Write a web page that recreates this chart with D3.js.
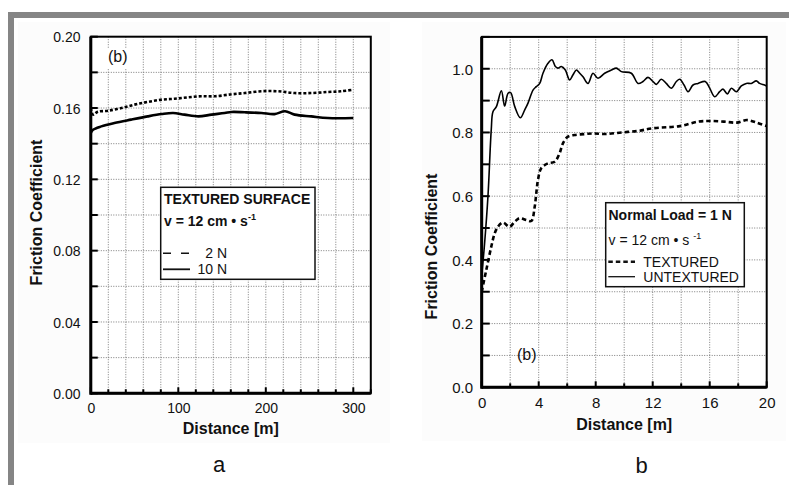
<!DOCTYPE html>
<html>
<head>
<meta charset="utf-8">
<script src="https://cdn.jsdelivr.net/npm/d3@7"></script>
<style>
  html, body { margin: 0; padding: 0; background: #fff; }
  svg { display: block; font-family: "Liberation Sans", Arial, sans-serif; }
</style>
</head>
<body>
<svg id="fig" width="789" height="485"></svg>
<script>
// ---- Panel a: textured surface, two normal loads ----
const distA2N = [0, 2.5, 8, 20, 35, 50, 65, 81, 96, 111, 126, 142, 161, 176, 195, 214, 233, 252, 271, 286, 300];
const muA2N   = [0.160, 0.1563, 0.1579, 0.1585, 0.1600, 0.1619, 0.1634, 0.1647, 0.1652, 0.1660, 0.1666, 0.1666, 0.1677, 0.1684, 0.1694, 0.1694, 0.1684, 0.1684, 0.1690, 0.1694, 0.1703];
const distA10N = [0, 2.5, 12, 27, 46, 65, 81, 94, 107, 123, 138, 153, 161, 176, 195, 210, 222, 233, 252, 271, 300];
const muA10N   = [0.1460, 0.1478, 0.1497, 0.1516, 0.1535, 0.1553, 0.1566, 0.1572, 0.1563, 0.1553, 0.1563, 0.1572, 0.1578, 0.1576, 0.1572, 0.1566, 0.1582, 0.1563, 0.1553, 0.1544, 0.1544];
const ticksAX = [0, 100, 200, 300];
const ticksAY = [0.00, 0.04, 0.08, 0.12, 0.16, 0.20];

// ---- Panel b: textured vs untextured, 1 N ----
const distBT = [0, 0.32, 0.67, 0.91, 1.14, 1.49, 1.96, 2.32, 2.67, 3.13, 3.48, 3.72, 3.83, 3.95, 4.18, 4.65, 5.12, 5.47, 5.7, 6.05, 6.53, 7.23, 7.81, 8.63, 9.8, 11, 12, 13.9, 15.2, 16, 17, 17.9, 18.6, 19.3, 20];
const muBT   = [0.30, 0.368, 0.441, 0.483, 0.504, 0.517, 0.504, 0.520, 0.531, 0.525, 0.522, 0.567, 0.609, 0.651, 0.688, 0.703, 0.708, 0.735, 0.766, 0.787, 0.792, 0.795, 0.797, 0.795, 0.800, 0.805, 0.813, 0.820, 0.834, 0.836, 0.834, 0.831, 0.839, 0.831, 0.820];
const distBU = [0, 0.2, 0.44, 0.67, 0.79, 1.03, 1.38, 1.61, 1.85, 2.03, 2.32, 2.71, 3.02, 3.25, 3.6, 3.83, 4.07, 4.3, 4.65, 4.93, 5.17, 5.35, 5.59, 5.87, 6.17, 6.41, 6.64, 6.88, 7.11, 7.46, 7.81, 8.16, 8.63, 9.1, 9.45, 9.8, 10.5, 10.97, 11.32, 11.67, 12.02, 12.26, 12.6, 12.95, 13.3, 13.66, 13.9, 14.2, 14.48, 14.83, 15.18, 15.69, 16, 16.35, 16.7, 16.93, 17.24, 17.52, 17.87, 18.22, 18.57, 18.92, 19.27, 19.5, 19.85, 20];
const muBU   = [0.35, 0.45, 0.60, 0.808, 0.865, 0.881, 0.931, 0.883, 0.923, 0.925, 0.881, 0.846, 0.871, 0.892, 0.933, 0.944, 0.954, 0.986, 1.017, 1.028, 1.007, 1.002, 1.007, 0.996, 0.965, 0.981, 0.996, 0.986, 0.975, 0.954, 0.986, 0.970, 0.986, 0.996, 1.002, 0.991, 0.986, 0.954, 0.960, 0.973, 0.960, 0.951, 0.967, 0.954, 0.939, 0.960, 0.967, 0.949, 0.928, 0.949, 0.954, 0.960, 0.939, 0.912, 0.928, 0.936, 0.921, 0.939, 0.928, 0.946, 0.954, 0.954, 0.962, 0.954, 0.949, 0.946];
const ticksBX = [0, 4, 8, 12, 16, 20];
const ticksBY = [0.0, 0.2, 0.4, 0.6, 0.8, 1.0];

const svg = d3.select("#fig");

// page frame
svg.append("rect").attr("x", 8).attr("y", 12).attr("width", 781).attr("height", 6).attr("fill", "#858585");
svg.append("rect").attr("x", 8).attr("y", 12).attr("width", 6).attr("height", 473).attr("fill", "#858585");
// faint panel backgrounds
svg.append("rect").attr("x", 18).attr("y", 22).attr("width", 372).attr("height", 421).attr("fill", "#fcfcfc");
svg.append("rect").attr("x", 422).attr("y", 22).attr("width", 364).attr("height", 419).attr("fill", "#fcfcfc");

function pairs(xs, ys) { return xs.map((d, i) => [d, ys[i]]); }

function panel(cfg) {
  const g = svg.append("g");
  const x = d3.scaleLinear().domain(cfg.xDomain).range([cfg.left, cfg.right]);
  const y = d3.scaleLinear().domain(cfg.yDomain).range([cfg.bottom, cfg.top]);

  g.append("rect").attr("x", cfg.left).attr("y", cfg.top)
    .attr("width", cfg.right - cfg.left).attr("height", cfg.bottom - cfg.top).attr("fill", "#fff");

  // dotted grid
  const grid = g.append("g").attr("stroke", "#6e6e6e").attr("stroke-width", 0.9).attr("stroke-dasharray", "1,1.5");
  d3.range(cfg.xDomain[0] + cfg.gridX, cfg.xDomain[1] - 1e-9, cfg.gridX).forEach(v => {
    grid.append("line").attr("x1", x(v)).attr("x2", x(v)).attr("y1", cfg.top).attr("y2", cfg.bottom);
  });
  d3.range(cfg.yDomain[0] + cfg.gridY, cfg.yDomain[1] - 1e-9, cfg.gridY).forEach(v => {
    grid.append("line").attr("x1", cfg.left).attr("x2", cfg.right).attr("y1", y(v)).attr("y2", y(v));
  });

  // inward ticks
  const tk = g.append("g").attr("stroke", "#000").attr("stroke-width", 2);
  d3.range(cfg.xDomain[0], cfg.xDomain[1] + 1e-9, cfg.gridX).forEach(v => {
    const major = cfg.xTicks.some(t => Math.abs(t - v) < 1e-9);
    tk.append("line").attr("x1", x(v)).attr("x2", x(v)).attr("y1", cfg.bottom).attr("y2", cfg.bottom - (major ? 6 : 4));
  });
  d3.range(cfg.yDomain[0], cfg.yDomain[1] + 1e-9, cfg.gridY).forEach(v => {
    tk.append("line").attr("x1", cfg.left).attr("x2", cfg.left + cfg.yTickLen).attr("y1", y(v)).attr("y2", y(v));
  });

  // tick labels via d3 axes (tick lines hidden, only text)
  const ax = d3.axisBottom(x).tickValues(cfg.xTicks).tickSize(0).tickPadding(0).tickFormat(cfg.xFmt);
  const axG = g.append("g").attr("transform", `translate(0,${cfg.xLabelY})`).call(ax);
  axG.select(".domain").remove();
  axG.selectAll("text").attr("dy", 0).attr("font-size", cfg.tickFont).attr("fill", "#111")
    .attr("font-family", "Liberation Sans, Arial, sans-serif");

  const ay = d3.axisLeft(y).tickValues(cfg.yTicks).tickSize(0).tickPadding(0).tickFormat(cfg.yFmt);
  const ayG = g.append("g").attr("transform", `translate(${cfg.yLabelX},0)`).call(ay);
  ayG.select(".domain").remove();
  ayG.selectAll("text").attr("dy", "0.36em").attr("font-size", cfg.tickFont).attr("fill", "#111")
    .attr("font-family", "Liberation Sans, Arial, sans-serif");

  // axis titles
  g.append("text").attr("x", (cfg.left + cfg.right) / 2 + cfg.xTitleDx).attr("y", cfg.xTitleY)
    .attr("text-anchor", "middle").attr("font-weight", "bold").attr("font-size", 16).attr("fill", "#111")
    .text("Distance [m]");
  g.append("text").attr("transform", `translate(${cfg.yTitleX},${cfg.yTitleY}) rotate(-90)`)
    .attr("text-anchor", "middle").attr("font-weight", "bold").attr("font-size", 16).attr("fill", "#111")
    .text("Friction Coefficient");

  // clip
  const id = "clip" + cfg.name;
  svg.append("defs").append("clipPath").attr("id", id).append("rect")
    .attr("x", cfg.left).attr("y", cfg.top).attr("width", cfg.right - cfg.left).attr("height", cfg.bottom - cfg.top);
  const plot = g.append("g").attr("clip-path", `url(#${id})`);

  const line = d3.line().x(d => x(d[0])).y(d => y(d[1])).curve(d3.curveCatmullRom.alpha(0.5));
  cfg.series.forEach(s => {
    plot.append("path").attr("d", line(pairs(s.xs, s.ys))).attr("fill", "none")
      .attr("stroke", "#000").attr("stroke-width", s.width)
      .attr("stroke-dasharray", s.dash || null).attr("stroke-linejoin", "round");
  });

  // frame
  g.append("rect").attr("x", cfg.left).attr("y", cfg.top)
    .attr("width", cfg.right - cfg.left).attr("height", cfg.bottom - cfg.top)
    .attr("fill", "none").attr("stroke", "#000").attr("stroke-width", 2);
  g.append("line").attr("x1", cfg.left).attr("x2", cfg.left).attr("y1", cfg.top).attr("y2", cfg.bottom + 1.5)
    .attr("stroke", "#000").attr("stroke-width", 3);
  g.append("line").attr("x1", cfg.left).attr("x2", cfg.right).attr("y1", cfg.bottom).attr("y2", cfg.bottom)
    .attr("stroke", "#000").attr("stroke-width", 3);

  return { g, x, y };
}

// ---------- panel a ----------
const pa = panel({
  name: "a", left: 90.8, right: 370.8, top: 36.7, bottom: 393.3,
  xDomain: [0, 320], yDomain: [0, 0.20], gridX: 20, gridY: 0.02, yTickLen: 7,
  xTicks: ticksAX, yTicks: ticksAY, xFmt: d3.format("d"), yFmt: d3.format(".2f"),
  tickFont: 14, xLabelY: 413, yLabelX: 80.5,
  xTitleDx: 0, xTitleY: 434, yTitleX: 42, yTitleY: 212.5,
  series: [
    { xs: distA2N, ys: muA2N, width: 2.6, dash: "3,2" },
    { xs: distA10N, ys: muA10N, width: 2.6 }
  ]
});

// "(b)" tag with a white patch behind it
pa.g.append("rect").attr("x", 104).attr("y", 48).attr("width", 28).attr("height", 20).attr("fill", "#fff");
pa.g.append("text").attr("x", 108).attr("y", 62).attr("font-size", 16).attr("fill", "#111").text("(b)");

// legend a
const la = pa.g.append("g");
la.append("rect").attr("x", 160.7).attr("y", 187.3).attr("width", 154.3).attr("height", 92)
  .attr("fill", "#fff").attr("stroke", "#111").attr("stroke-width", 1.5);
la.append("text").attr("x", 164).attr("y", 204).attr("font-size", 14).attr("font-weight", "bold").attr("fill", "#111")
  .text("TEXTURED SURFACE");
const va = la.append("text").attr("x", 164).attr("y", 226).attr("font-size", 14).attr("font-weight", "bold").attr("fill", "#111");
va.append("tspan").text("v = 12 cm \u2022 s");
va.append("tspan").attr("dy", -6).attr("font-size", 9).text("-1");
la.append("line").attr("x1", 163).attr("x2", 190).attr("y1", 253.3).attr("y2", 253.3)
  .attr("stroke", "#111").attr("stroke-width", 1.5).attr("stroke-dasharray", "8,10");
la.append("text").attr("x", 227).attr("y", 258.3).attr("text-anchor", "end").attr("font-size", 14).attr("fill", "#111").text("2 N");
la.append("line").attr("x1", 163).attr("x2", 190).attr("y1", 269.3).attr("y2", 269.3)
  .attr("stroke", "#111").attr("stroke-width", 1.8);
la.append("text").attr("x", 227).attr("y", 274.3).attr("text-anchor", "end").attr("font-size", 14).attr("fill", "#111").text("10 N");

svg.append("text").attr("x", 219).attr("y", 471.5).attr("text-anchor", "middle").attr("font-size", 22).attr("fill", "#111").text("a");

// ---------- panel b ----------
const pb = panel({
  name: "b", left: 481.7, right: 766.7, top: 36.9, bottom: 387.3,
  xDomain: [0, 20], yDomain: [0, 1.1], gridX: 2, gridY: 0.1, yTickLen: 8,
  xTicks: ticksBX, yTicks: ticksBY, xFmt: d3.format("d"), yFmt: d3.format(".1f"),
  tickFont: 15, xLabelY: 407.5, yLabelX: 473,
  xTitleDx: 0, xTitleY: 429.5, yTitleX: 437, yTitleY: 246.5,
  series: [
    { xs: distBT, ys: muBT, width: 2.6, dash: "4.5,3" },
    { xs: distBU, ys: muBU, width: 1.6 }
  ]
});

pb.g.append("text").attr("x", 517).attr("y", 360).attr("font-size", 16).attr("fill", "#111").text("(b)");

// legend b
const lb = pb.g.append("g");
lb.append("rect").attr("x", 605.7).attr("y", 202.7).attr("width", 138.6).attr("height", 84)
  .attr("fill", "#fff").attr("stroke", "#111").attr("stroke-width", 1.5);
lb.append("text").attr("x", 608.5).attr("y", 220).attr("font-size", 14).attr("font-weight", "bold").attr("fill", "#111")
  .text("Normal Load = 1 N");
const vb = lb.append("text").attr("x", 608.5).attr("y", 245).attr("font-size", 14).attr("fill", "#111");
vb.append("tspan").text("v = 12 cm \u2022 s ");
vb.append("tspan").attr("dy", -6).attr("font-size", 9).text("-1");
lb.append("line").attr("x1", 608.3).attr("x2", 635).attr("y1", 261.7).attr("y2", 261.7)
  .attr("stroke", "#111").attr("stroke-width", 2.4).attr("stroke-dasharray", "4.5,3");
lb.append("text").attr("x", 643.3).attr("y", 266.7).attr("font-size", 14).attr("fill", "#111").text("TEXTURED");
lb.append("line").attr("x1", 608.3).attr("x2", 635).attr("y1", 276.7).attr("y2", 276.7)
  .attr("stroke", "#111").attr("stroke-width", 1.3);
lb.append("text").attr("x", 643.3).attr("y", 282).attr("font-size", 14).attr("fill", "#111").text("UNTEXTURED");

svg.append("text").attr("x", 641.7).attr("y", 473).attr("text-anchor", "middle").attr("font-size", 22).attr("fill", "#111").text("b");
</script>
</body>
</html>
